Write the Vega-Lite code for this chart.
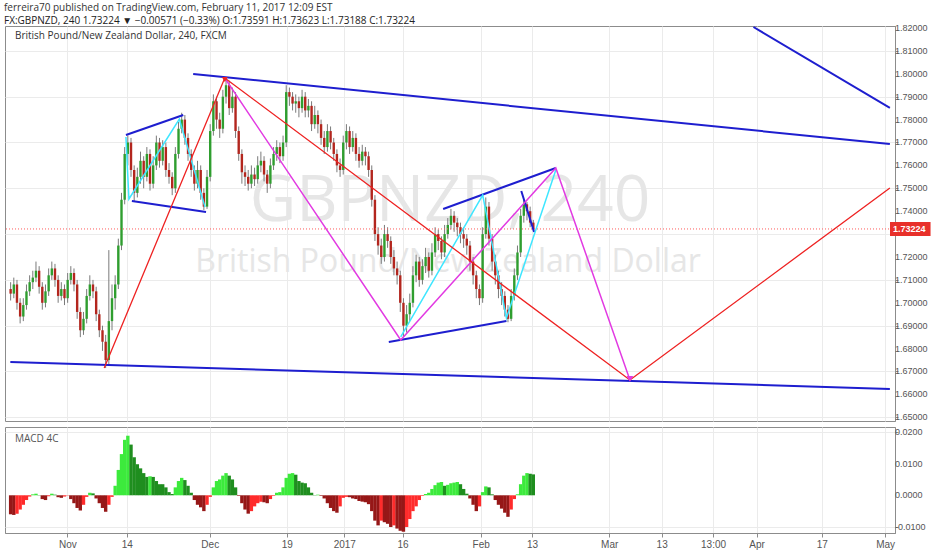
{
"$schema": "https://vega.github.io/schema/vega-lite/v6.json",
"background": "white",
"padding": {"left": 4, "top": 3, "right": 0, "bottom": 0},
"title": {"text": "ferreira70 published on TradingView.com, February 11, 2017 12:09 EST", "subtitle": "FX:GBPNZD, 240  1.73224 ▼ −0.00571 (−0.33%)  O:1.73591  H:1.73623  L:1.73188  C:1.73224", "anchor": "start", "frame": "bounds", "font": "Open Sans", "fontSize": 10, "fontWeight": "normal", "color": "#333333", "subtitleFont": "Open Sans", "subtitleFontSize": 10, "subtitleColor": "#222222", "offset": -3, "subtitlePadding": 3},
"spacing": 3,
"datasets": {
"one": [{}],
"yticks": [
{"v":1.65,"t":"1.65000"},{"v":1.66,"t":"1.66000"},{"v":1.67,"t":"1.67000"},{"v":1.68,"t":"1.68000"},{"v":1.69,"t":"1.69000"},
{"v":1.70,"t":"1.70000"},{"v":1.71,"t":"1.71000"},{"v":1.72,"t":"1.72000"},{"v":1.74,"t":"1.74000"},
{"v":1.75,"t":"1.75000"},{"v":1.76,"t":"1.76000"},{"v":1.77,"t":"1.77000"},{"v":1.78,"t":"1.78000"},{"v":1.79,"t":"1.79000"},
{"v":1.80,"t":"1.80000"},{"v":1.81,"t":"1.81000"},{"v":1.82,"t":"1.82000"}
],
"mticks": [
{"v":-0.01,"t":"-0.0100"},{"v":0,"t":"0.0000"},{"v":0.01,"t":"0.0100"},{"v":0.02,"t":"0.0200"}
],
"candles": [
{"d":-9,"o":1.706,"h":1.709,"l":1.701,"c":1.704},
{"d":-8.5,"o":1.704,"h":1.711,"l":1.702,"c":1.708},
{"d":-8,"o":1.708,"h":1.710,"l":1.697,"c":1.700},
{"d":-7.5,"o":1.700,"h":1.702,"l":1.691,"c":1.694},
{"d":-7,"o":1.694,"h":1.702,"l":1.692,"c":1.699},
{"d":-6.5,"o":1.699,"h":1.708,"l":1.697,"c":1.705},
{"d":-6,"o":1.705,"h":1.712,"l":1.703,"c":1.709},
{"d":-5.5,"o":1.709,"h":1.714,"l":1.706,"c":1.711},
{"d":-5,"o":1.711,"h":1.718,"l":1.709,"c":1.714},
{"d":-4.5,"o":1.714,"h":1.716,"l":1.704,"c":1.707},
{"d":-4,"o":1.707,"h":1.709,"l":1.697,"c":1.700},
{"d":-3.5,"o":1.700,"h":1.708,"l":1.698,"c":1.705},
{"d":-3,"o":1.705,"h":1.715,"l":1.703,"c":1.712},
{"d":-2.5,"o":1.712,"h":1.718,"l":1.710,"c":1.715},
{"d":-2,"o":1.715,"h":1.717,"l":1.707,"c":1.710},
{"d":-1.5,"o":1.710,"h":1.712,"l":1.700,"c":1.703},
{"d":-1,"o":1.703,"h":1.709,"l":1.701,"c":1.706},
{"d":-0.5,"o":1.706,"h":1.708,"l":1.699,"c":1.702},
{"d":0,"o":1.702,"h":1.713,"l":1.700,"c":1.710},
{"d":0.5,"o":1.710,"h":1.716,"l":1.708,"c":1.713},
{"d":1,"o":1.713,"h":1.715,"l":1.705,"c":1.708},
{"d":1.5,"o":1.708,"h":1.710,"l":1.693,"c":1.696},
{"d":2,"o":1.696,"h":1.698,"l":1.685,"c":1.688},
{"d":2.5,"o":1.688,"h":1.696,"l":1.686,"c":1.693},
{"d":3,"o":1.693,"h":1.706,"l":1.691,"c":1.703},
{"d":3.5,"o":1.703,"h":1.712,"l":1.701,"c":1.708},
{"d":4,"o":1.708,"h":1.710,"l":1.702,"c":1.705},
{"d":4.5,"o":1.705,"h":1.707,"l":1.692,"c":1.695},
{"d":5,"o":1.695,"h":1.697,"l":1.685,"c":1.688},
{"d":5.5,"o":1.688,"h":1.690,"l":1.679,"c":1.683},
{"d":6,"o":1.683,"h":1.686,"l":1.6715,"c":1.675},
{"d":6.5,"o":1.675,"h":1.723,"l":1.673,"c":1.692},
{"d":7,"o":1.692,"h":1.708,"l":1.688,"c":1.702},
{"d":7.5,"o":1.702,"h":1.712,"l":1.697,"c":1.708},
{"d":8,"o":1.708,"h":1.728,"l":1.706,"c":1.725},
{"d":8.5,"o":1.725,"h":1.748,"l":1.723,"c":1.745},
{"d":9,"o":1.745,"h":1.768,"l":1.743,"c":1.765},
{"d":9.5,"o":1.765,"h":1.773,"l":1.760,"c":1.770},
{"d":10,"o":1.770,"h":1.772,"l":1.755,"c":1.758},
{"d":10.5,"o":1.758,"h":1.760,"l":1.744,"c":1.748},
{"d":11,"o":1.748,"h":1.759,"l":1.746,"c":1.755},
{"d":11.5,"o":1.755,"h":1.766,"l":1.752,"c":1.762},
{"d":12,"o":1.762,"h":1.764,"l":1.750,"c":1.755},
{"d":12.5,"o":1.755,"h":1.768,"l":1.753,"c":1.765},
{"d":13,"o":1.765,"h":1.767,"l":1.749,"c":1.752},
{"d":13.5,"o":1.752,"h":1.764,"l":1.750,"c":1.760},
{"d":14,"o":1.760,"h":1.773,"l":1.758,"c":1.770},
{"d":14.5,"o":1.770,"h":1.772,"l":1.759,"c":1.762},
{"d":15,"o":1.762,"h":1.771,"l":1.760,"c":1.768},
{"d":15.5,"o":1.768,"h":1.770,"l":1.755,"c":1.758},
{"d":16,"o":1.758,"h":1.761,"l":1.752,"c":1.755},
{"d":16.5,"o":1.755,"h":1.757,"l":1.747,"c":1.750},
{"d":17,"o":1.750,"h":1.768,"l":1.748,"c":1.765},
{"d":17.5,"o":1.765,"h":1.779,"l":1.763,"c":1.776},
{"d":18,"o":1.776,"h":1.783,"l":1.774,"c":1.780},
{"d":18.5,"o":1.780,"h":1.782,"l":1.769,"c":1.772},
{"d":19,"o":1.772,"h":1.774,"l":1.762,"c":1.765},
{"d":19.5,"o":1.765,"h":1.767,"l":1.755,"c":1.758},
{"d":20,"o":1.758,"h":1.760,"l":1.749,"c":1.752},
{"d":20.5,"o":1.752,"h":1.762,"l":1.750,"c":1.758},
{"d":21,"o":1.758,"h":1.760,"l":1.745,"c":1.748},
{"d":21.5,"o":1.748,"h":1.750,"l":1.7405,"c":1.742},
{"d":22,"o":1.742,"h":1.758,"l":1.741,"c":1.755},
{"d":22.5,"o":1.755,"h":1.778,"l":1.753,"c":1.775},
{"d":23,"o":1.775,"h":1.791,"l":1.773,"c":1.788},
{"d":23.5,"o":1.788,"h":1.790,"l":1.776,"c":1.780},
{"d":24,"o":1.780,"h":1.783,"l":1.772,"c":1.776},
{"d":24.5,"o":1.776,"h":1.793,"l":1.774,"c":1.790},
{"d":25,"o":1.790,"h":1.7985,"l":1.787,"c":1.795},
{"d":25.5,"o":1.795,"h":1.797,"l":1.782,"c":1.785},
{"d":26,"o":1.785,"h":1.794,"l":1.783,"c":1.790},
{"d":26.5,"o":1.790,"h":1.792,"l":1.772,"c":1.775},
{"d":27,"o":1.775,"h":1.777,"l":1.762,"c":1.765},
{"d":27.5,"o":1.765,"h":1.767,"l":1.752,"c":1.757},
{"d":28,"o":1.757,"h":1.760,"l":1.751,"c":1.755},
{"d":28.5,"o":1.755,"h":1.758,"l":1.749,"c":1.752},
{"d":29,"o":1.752,"h":1.760,"l":1.750,"c":1.756},
{"d":29.5,"o":1.756,"h":1.759,"l":1.751,"c":1.754},
{"d":30,"o":1.754,"h":1.764,"l":1.752,"c":1.760},
{"d":30.5,"o":1.760,"h":1.766,"l":1.757,"c":1.762},
{"d":31,"o":1.762,"h":1.764,"l":1.753,"c":1.756},
{"d":31.5,"o":1.756,"h":1.758,"l":1.748,"c":1.752},
{"d":32,"o":1.752,"h":1.763,"l":1.750,"c":1.760},
{"d":32.5,"o":1.760,"h":1.768,"l":1.758,"c":1.765},
{"d":33,"o":1.765,"h":1.771,"l":1.762,"c":1.768},
{"d":33.5,"o":1.768,"h":1.770,"l":1.761,"c":1.764},
{"d":34,"o":1.764,"h":1.773,"l":1.762,"c":1.770},
{"d":34.5,"o":1.770,"h":1.795,"l":1.768,"c":1.792},
{"d":35,"o":1.792,"h":1.794,"l":1.786,"c":1.790},
{"d":35.5,"o":1.790,"h":1.792,"l":1.784,"c":1.787},
{"d":36,"o":1.787,"h":1.791,"l":1.783,"c":1.788},
{"d":36.5,"o":1.788,"h":1.790,"l":1.781,"c":1.785},
{"d":37,"o":1.785,"h":1.793,"l":1.783,"c":1.790},
{"d":37.5,"o":1.790,"h":1.792,"l":1.781,"c":1.784},
{"d":38,"o":1.784,"h":1.789,"l":1.781,"c":1.786},
{"d":38.5,"o":1.786,"h":1.788,"l":1.775,"c":1.778},
{"d":39,"o":1.778,"h":1.786,"l":1.776,"c":1.782},
{"d":39.5,"o":1.782,"h":1.784,"l":1.774,"c":1.778},
{"d":40,"o":1.778,"h":1.780,"l":1.769,"c":1.772},
{"d":40.5,"o":1.772,"h":1.775,"l":1.765,"c":1.768},
{"d":41,"o":1.768,"h":1.778,"l":1.766,"c":1.775},
{"d":41.5,"o":1.775,"h":1.777,"l":1.767,"c":1.770},
{"d":42,"o":1.770,"h":1.772,"l":1.762,"c":1.765},
{"d":42.5,"o":1.765,"h":1.767,"l":1.757,"c":1.760},
{"d":43,"o":1.760,"h":1.763,"l":1.755,"c":1.758},
{"d":43.5,"o":1.758,"h":1.773,"l":1.756,"c":1.770},
{"d":44,"o":1.770,"h":1.778,"l":1.767,"c":1.775},
{"d":44.5,"o":1.775,"h":1.777,"l":1.765,"c":1.768},
{"d":45,"o":1.768,"h":1.775,"l":1.766,"c":1.772},
{"d":45.5,"o":1.772,"h":1.774,"l":1.762,"c":1.765},
{"d":46,"o":1.765,"h":1.768,"l":1.759,"c":1.762},
{"d":46.5,"o":1.762,"h":1.769,"l":1.760,"c":1.766},
{"d":47,"o":1.766,"h":1.768,"l":1.760,"c":1.764},
{"d":47.5,"o":1.764,"h":1.766,"l":1.755,"c":1.758},
{"d":48,"o":1.758,"h":1.760,"l":1.742,"c":1.745},
{"d":48.5,"o":1.745,"h":1.747,"l":1.727,"c":1.730},
{"d":49,"o":1.730,"h":1.733,"l":1.721,"c":1.725},
{"d":49.5,"o":1.725,"h":1.728,"l":1.717,"c":1.720},
{"d":50,"o":1.720,"h":1.734,"l":1.718,"c":1.730},
{"d":50.5,"o":1.730,"h":1.733,"l":1.724,"c":1.727},
{"d":51,"o":1.727,"h":1.729,"l":1.717,"c":1.720},
{"d":51.5,"o":1.720,"h":1.723,"l":1.712,"c":1.715},
{"d":52,"o":1.715,"h":1.718,"l":1.708,"c":1.712},
{"d":52.5,"o":1.712,"h":1.714,"l":1.696,"c":1.700},
{"d":53,"o":1.700,"h":1.702,"l":1.685,"c":1.690},
{"d":53.5,"o":1.690,"h":1.699,"l":1.687,"c":1.695},
{"d":54,"o":1.695,"h":1.704,"l":1.692,"c":1.700},
{"d":54.5,"o":1.700,"h":1.716,"l":1.698,"c":1.712},
{"d":55,"o":1.712,"h":1.721,"l":1.709,"c":1.718},
{"d":55.5,"o":1.718,"h":1.720,"l":1.707,"c":1.710},
{"d":56,"o":1.710,"h":1.719,"l":1.708,"c":1.716},
{"d":56.5,"o":1.716,"h":1.724,"l":1.713,"c":1.720},
{"d":57,"o":1.720,"h":1.722,"l":1.711,"c":1.714},
{"d":57.5,"o":1.714,"h":1.726,"l":1.712,"c":1.722},
{"d":58,"o":1.722,"h":1.733,"l":1.720,"c":1.730},
{"d":58.5,"o":1.730,"h":1.732,"l":1.723,"c":1.727},
{"d":59,"o":1.727,"h":1.729,"l":1.719,"c":1.722},
{"d":59.5,"o":1.722,"h":1.734,"l":1.720,"c":1.730},
{"d":60,"o":1.730,"h":1.737,"l":1.728,"c":1.734},
{"d":60.5,"o":1.734,"h":1.741,"l":1.732,"c":1.738},
{"d":61,"o":1.738,"h":1.740,"l":1.731,"c":1.735},
{"d":61.5,"o":1.735,"h":1.737,"l":1.729,"c":1.733},
{"d":62,"o":1.733,"h":1.735,"l":1.726,"c":1.730},
{"d":62.5,"o":1.730,"h":1.733,"l":1.724,"c":1.728},
{"d":63,"o":1.728,"h":1.730,"l":1.721,"c":1.725},
{"d":63.5,"o":1.725,"h":1.727,"l":1.714,"c":1.718},
{"d":64,"o":1.718,"h":1.720,"l":1.708,"c":1.712},
{"d":64.5,"o":1.712,"h":1.714,"l":1.702,"c":1.706},
{"d":65,"o":1.706,"h":1.708,"l":1.699,"c":1.702},
{"d":65.5,"o":1.702,"h":1.733,"l":1.700,"c":1.730},
{"d":66,"o":1.730,"h":1.746,"l":1.728,"c":1.742},
{"d":66.5,"o":1.742,"h":1.744,"l":1.725,"c":1.728},
{"d":67,"o":1.728,"h":1.730,"l":1.714,"c":1.718},
{"d":67.5,"o":1.718,"h":1.721,"l":1.708,"c":1.712},
{"d":68,"o":1.712,"h":1.714,"l":1.702,"c":1.706},
{"d":68.5,"o":1.706,"h":1.709,"l":1.699,"c":1.703},
{"d":69,"o":1.703,"h":1.705,"l":1.694,"c":1.697},
{"d":69.5,"o":1.697,"h":1.699,"l":1.6915,"c":1.693},
{"d":70,"o":1.693,"h":1.706,"l":1.692,"c":1.703},
{"d":70.5,"o":1.703,"h":1.715,"l":1.701,"c":1.712},
{"d":71,"o":1.712,"h":1.725,"l":1.710,"c":1.722},
{"d":71.5,"o":1.722,"h":1.741,"l":1.720,"c":1.738},
{"d":72,"o":1.738,"h":1.745,"l":1.735,"c":1.743},
{"d":72.5,"o":1.743,"h":1.744,"l":1.736,"c":1.740},
{"d":73,"o":1.740,"h":1.742,"l":1.733,"c":1.735},
{"d":73.5,"o":1.735,"h":1.7362,"l":1.7319,"c":1.7322}
],
"macd": [
{"d":-9,"m":-0.0060,"k":"M"},{"d":-8.5,"m":-0.0062,"k":"M"},{"d":-8,"m":-0.0058,"k":"R"},{"d":-7.5,"m":-0.0045,"k":"R"},
{"d":-7,"m":-0.0030,"k":"R"},{"d":-6.5,"m":-0.0015,"k":"R"},{"d":-6,"m":-0.0004,"k":"R"},{"d":-5.5,"m":0.0003,"k":"L"},
{"d":-5,"m":0.0005,"k":"L"},{"d":-4.5,"m":0.0001,"k":"G"},{"d":-4,"m":-0.0012,"k":"M"},{"d":-3.5,"m":-0.0015,"k":"M"},
{"d":-3,"m":-0.0003,"k":"R"},{"d":-2.5,"m":0.0005,"k":"L"},{"d":-2,"m":0.0002,"k":"G"},{"d":-1.5,"m":-0.0006,"k":"M"},
{"d":-1,"m":-0.0008,"k":"M"},{"d":-0.5,"m":-0.0004,"k":"R"},{"d":0,"m":-0.0001,"k":"R"},{"d":0.5,"m":-0.0012,"k":"M"},
{"d":1,"m":-0.0025,"k":"M"},{"d":1.5,"m":-0.0040,"k":"M"},{"d":2,"m":-0.0048,"k":"M"},{"d":2.5,"m":-0.0030,"k":"R"},
{"d":3,"m":-0.0005,"k":"R"},{"d":3.5,"m":0.0008,"k":"L"},{"d":4,"m":0.0006,"k":"G"},{"d":4.5,"m":-0.0010,"k":"M"},
{"d":5,"m":-0.0025,"k":"M"},{"d":5.5,"m":-0.0040,"k":"M"},{"d":6,"m":-0.0052,"k":"M"},{"d":6.5,"m":-0.0030,"k":"R"},
{"d":7,"m":-0.0005,"k":"R"},{"d":7.5,"m":0.0030,"k":"L"},{"d":8,"m":0.0080,"k":"L"},{"d":8.5,"m":0.0130,"k":"L"},
{"d":9,"m":0.0175,"k":"L"},{"d":9.5,"m":0.0188,"k":"L"},{"d":10,"m":0.0160,"k":"G"},{"d":10.5,"m":0.0120,"k":"G"},
{"d":11,"m":0.0098,"k":"G"},{"d":11.5,"m":0.0085,"k":"G"},{"d":12,"m":0.0070,"k":"G"},{"d":12.5,"m":0.0058,"k":"G"},
{"d":13,"m":0.0060,"k":"L"},{"d":13.5,"m":0.0058,"k":"G"},{"d":14,"m":0.0045,"k":"G"},{"d":14.5,"m":0.0035,"k":"G"},
{"d":15,"m":0.0035,"k":"G"},{"d":15.5,"m":0.0025,"k":"G"},{"d":16,"m":0.0010,"k":"G"},{"d":16.5,"m":0.0004,"k":"G"},
{"d":17,"m":0.0025,"k":"L"},{"d":17.5,"m":0.0045,"k":"L"},{"d":18,"m":0.0055,"k":"L"},{"d":18.5,"m":0.0048,"k":"G"},
{"d":19,"m":0.0030,"k":"G"},{"d":19.5,"m":0.0008,"k":"G"},{"d":20,"m":-0.0015,"k":"M"},{"d":20.5,"m":-0.0030,"k":"M"},
{"d":21,"m":-0.0038,"k":"M"},{"d":21.5,"m":-0.0050,"k":"M"},{"d":22,"m":-0.0030,"k":"R"},{"d":22.5,"m":-0.0005,"k":"R"},
{"d":23,"m":0.0025,"k":"L"},{"d":23.5,"m":0.0045,"k":"L"},{"d":24,"m":0.0050,"k":"L"},{"d":24.5,"m":0.0062,"k":"L"},
{"d":25,"m":0.0070,"k":"L"},{"d":25.5,"m":0.0062,"k":"G"},{"d":26,"m":0.0050,"k":"G"},{"d":26.5,"m":0.0025,"k":"G"},
{"d":27,"m":-0.0002,"k":"M"},{"d":27.5,"m":-0.0025,"k":"M"},{"d":28,"m":-0.0045,"k":"M"},{"d":28.5,"m":-0.0058,"k":"M"},
{"d":29,"m":-0.0050,"k":"R"},{"d":29.5,"m":-0.0035,"k":"R"},{"d":30,"m":-0.0025,"k":"R"},{"d":30.5,"m":-0.0020,"k":"R"},
{"d":31,"m":-0.0022,"k":"M"},{"d":31.5,"m":-0.0025,"k":"M"},{"d":32,"m":-0.0012,"k":"R"},{"d":32.5,"m":-0.0002,"k":"R"},
{"d":33,"m":0.0008,"k":"L"},{"d":33.5,"m":0.0010,"k":"L"},{"d":34,"m":0.0025,"k":"L"},{"d":34.5,"m":0.0055,"k":"L"},
{"d":35,"m":0.0068,"k":"L"},{"d":35.5,"m":0.0070,"k":"L"},{"d":36,"m":0.0065,"k":"G"},{"d":36.5,"m":0.0045,"k":"G"},
{"d":37,"m":0.0040,"k":"G"},{"d":37.5,"m":0.0038,"k":"G"},{"d":38,"m":0.0025,"k":"G"},{"d":38.5,"m":0.0008,"k":"G"},
{"d":39,"m":0.0001,"k":"G"},{"d":39.5,"m":0.0002,"k":"L"},{"d":40,"m":-0.0002,"k":"M"},{"d":40.5,"m":-0.0010,"k":"M"},
{"d":41,"m":-0.0025,"k":"M"},{"d":41.5,"m":-0.0040,"k":"M"},{"d":42,"m":-0.0050,"k":"M"},{"d":42.5,"m":-0.0055,"k":"M"},
{"d":43,"m":-0.0035,"k":"R"},{"d":43.5,"m":-0.0008,"k":"R"},{"d":44,"m":-0.0005,"k":"R"},{"d":44.5,"m":-0.0006,"k":"M"},
{"d":45,"m":-0.0010,"k":"M"},{"d":45.5,"m":-0.0012,"k":"M"},{"d":46,"m":-0.0018,"k":"M"},{"d":46.5,"m":-0.0020,"k":"M"},
{"d":47,"m":-0.0022,"k":"M"},{"d":47.5,"m":-0.0028,"k":"M"},{"d":48,"m":-0.0050,"k":"M"},{"d":48.5,"m":-0.0080,"k":"M"},
{"d":49,"m":-0.0095,"k":"M"},{"d":49.5,"m":-0.0080,"k":"R"},{"d":50,"m":-0.0085,"k":"M"},{"d":50.5,"m":-0.0090,"k":"M"},
{"d":51,"m":-0.0100,"k":"M"},{"d":51.5,"m":-0.0095,"k":"R"},{"d":52,"m":-0.0105,"k":"M"},{"d":52.5,"m":-0.0112,"k":"M"},
{"d":53,"m":-0.0115,"k":"M"},{"d":53.5,"m":-0.0100,"k":"R"},{"d":54,"m":-0.0075,"k":"R"},{"d":54.5,"m":-0.0050,"k":"R"},
{"d":55,"m":-0.0035,"k":"R"},{"d":55.5,"m":-0.0015,"k":"R"},{"d":56,"m":-0.0002,"k":"R"},{"d":56.5,"m":0.0004,"k":"L"},
{"d":57,"m":0.0008,"k":"L"},{"d":57.5,"m":0.0020,"k":"L"},{"d":58,"m":0.0032,"k":"L"},{"d":58.5,"m":0.0040,"k":"L"},
{"d":59,"m":0.0042,"k":"L"},{"d":59.5,"m":0.0030,"k":"G"},{"d":60,"m":0.0033,"k":"L"},{"d":60.5,"m":0.0038,"k":"L"},
{"d":61,"m":0.0040,"k":"L"},{"d":61.5,"m":0.0042,"k":"L"},{"d":62,"m":0.0035,"k":"G"},{"d":62.5,"m":0.0020,"k":"G"},
{"d":63,"m":0.0005,"k":"G"},{"d":63.5,"m":-0.0010,"k":"M"},{"d":64,"m":-0.0030,"k":"M"},{"d":64.5,"m":-0.0050,"k":"M"},
{"d":65,"m":-0.0035,"k":"R"},{"d":65.5,"m":0.0010,"k":"L"},{"d":66,"m":0.0028,"k":"L"},{"d":66.5,"m":0.0025,"k":"G"},
{"d":67,"m":0.0003,"k":"G"},{"d":67.5,"m":-0.0015,"k":"M"},{"d":68,"m":-0.0030,"k":"M"},{"d":68.5,"m":-0.0042,"k":"M"},
{"d":69,"m":-0.0055,"k":"M"},{"d":69.5,"m":-0.0068,"k":"M"},{"d":70,"m":-0.0045,"k":"R"},{"d":70.5,"m":-0.0012,"k":"R"},
{"d":71,"m":0.0003,"k":"L"},{"d":71.5,"m":0.0035,"k":"L"},{"d":72,"m":0.0062,"k":"L"},{"d":72.5,"m":0.0070,"k":"L"},
{"d":73,"m":0.0068,"k":"G"},{"d":73.5,"m":0.0066,"k":"G"}
],
"lines": [
{"g":"blue","id":"b1","n":0,"d":-9.05,"p":1.67415},{"g":"blue","id":"b1","n":1,"d":129.78,"p":1.66236},
{"g":"blue","id":"b2","n":0,"d":19.81,"p":1.79991},{"g":"blue","id":"b2","n":1,"d":129.78,"p":1.76934},
{"g":"blue","id":"b3","n":0,"d":108.25,"p":1.82044},{"g":"blue","id":"b3","n":1,"d":129.78,"p":1.78507},
{"g":"blue","id":"b4","n":0,"d":9.2,"p":1.77328},{"g":"blue","id":"b4","n":1,"d":18.25,"p":1.78201},
{"g":"blue","id":"b5","n":0,"d":10.14,"p":1.74445},{"g":"blue","id":"b5","n":1,"d":21.84,"p":1.73965},
{"g":"blue","id":"b6","n":0,"d":59.27,"p":1.74096},{"g":"blue","id":"b6","n":1,"d":77.05,"p":1.75886},
{"g":"blue","id":"b7","n":0,"d":50.69,"p":1.68288},{"g":"blue","id":"b7","n":1,"d":69.26,"p":1.69205},
{"g":"blue","id":"b8","n":0,"d":71.6,"p":1.74882},{"g":"blue","id":"b8","n":1,"d":73.62,"p":1.73092},
{"g":"cyan","id":"c1","n":0,"d":9.2,"p":1.7724},{"g":"cyan","id":"c1","n":1,"d":9.67,"p":1.74533},{"g":"cyan","id":"c1","n":2,"d":17.63,"p":1.78026},{"g":"cyan","id":"c1","n":3,"d":21.68,"p":1.74183},
{"g":"cyan","id":"c2","n":0,"d":52.57,"p":1.68507},{"g":"cyan","id":"c2","n":1,"d":65.51,"p":1.74707},{"g":"cyan","id":"c2","n":2,"d":69.26,"p":1.69336},{"g":"cyan","id":"c2","n":3,"d":77.05,"p":1.75799},
{"g":"magenta","id":"m1","n":0,"d":24.8,"p":1.79817},{"g":"magenta","id":"m1","n":1,"d":52.57,"p":1.68376},{"g":"magenta","id":"m1","n":2,"d":77.05,"p":1.75886},{"g":"magenta","id":"m1","n":3,"d":88.75,"p":1.66629},
{"g":"red","id":"r1","n":0,"d":5.77,"p":1.67153},{"g":"red","id":"r1","n":1,"d":24.8,"p":1.79817},{"g":"red","id":"r1","n":2,"d":88.75,"p":1.66629},{"g":"red","id":"r1","n":3,"d":129.78,"p":1.75013}
]
},
"vconcat": [
{
"width": 890, "height": 395,
"layer": [
{"data": {"name": "one"}, "mark": {"type": "text", "font": "Open Sans", "fontSize": 64, "color": "#e6e6e6", "align": "center", "baseline": "middle"},
 "encoding": {
  "x": {"datum": 60.35, "type": "quantitative", "scale": {"domain": [-9.1, 129.8], "nice": false, "zero": false},
        "axis": {"values": [-0.047, 9.32, 22.43, 34.6, 43.66, 52.86, 65.19, 73.31, 85.48, 93.76, 101.87, 108.74, 119.04, 129.03], "labels": false, "ticks": false, "domain": false, "grid": true, "title": null}},
  "y": {"datum": 1.7440, "type": "quantitative", "scale": {"domain": [1.64838, 1.82087], "nice": false, "zero": false},
        "axis": {"orient": "right", "values": [1.65,1.66,1.67,1.68,1.69,1.70,1.71,1.72,1.73,1.74,1.75,1.76,1.77,1.78,1.79,1.80,1.81,1.82], "labels": false, "title": null, "grid": true, "tickSize": 3}},
  "text": {"value": "GBPNZD, 240"}}},
{"data": {"name": "one"}, "mark": {"type": "text", "font": "Open Sans", "fontSize": 32, "color": "#e6e6e6", "align": "center", "baseline": "middle"},
 "encoding": {"x": {"datum": 60.04}, "y": {"datum": 1.7178}, "text": {"value": "British Pound/New Zealand Dollar"}}},
{"data": {"name": "one"}, "mark": {"type": "text", "font": "Open Sans", "fontSize": 10, "color": "#333333", "align": "left", "baseline": "middle"},
 "encoding": {"x": {"datum": -8.32}, "y": {"datum": 1.8165}, "text": {"value": "British Pound/New Zealand Dollar, 240, FXCM"}}},
{"data": {"name": "candles"}, "mark": {"type": "rule", "color": "#7a7a7a", "strokeWidth": 1},
 "encoding": {"x": {"field": "d", "type": "quantitative"}, "y": {"field": "l", "type": "quantitative"}, "y2": {"field": "h"}}},
{"data": {"name": "candles"}, "mark": {"type": "bar", "size": 2.4},
 "encoding": {"x": {"field": "d", "type": "quantitative"}, "y": {"field": "o", "type": "quantitative"}, "y2": {"field": "c"},
  "color": {"condition": {"test": "datum.c >= datum.o", "value": "#2f9e2f"}, "value": "#b3261e"}}},
{"data": {"name": "one"}, "mark": {"type": "rule", "color": "#ff5a5a", "strokeWidth": 1, "strokeDash": [1, 2]},
 "encoding": {"y": {"datum": 1.73224}}},
{"data": {"name": "lines"}, "transform": [{"filter": "datum.g == 'blue'"}],
 "mark": {"type": "line", "color": "#1e1ecf", "strokeWidth": 2, "clip": true},
 "encoding": {"x": {"field": "d", "type": "quantitative"}, "y": {"field": "p", "type": "quantitative"}, "detail": {"field": "id"}, "order": {"field": "n"}}},
{"data": {"name": "lines"}, "transform": [{"filter": "datum.g == 'cyan'"}],
 "mark": {"type": "line", "color": "#3ee6ff", "strokeWidth": 1.5, "clip": true},
 "encoding": {"x": {"field": "d", "type": "quantitative"}, "y": {"field": "p", "type": "quantitative"}, "detail": {"field": "id"}, "order": {"field": "n"}}},
{"data": {"name": "lines"}, "transform": [{"filter": "datum.g == 'magenta'"}],
 "mark": {"type": "line", "color": "#e23ae2", "strokeWidth": 1.5, "clip": true},
 "encoding": {"x": {"field": "d", "type": "quantitative"}, "y": {"field": "p", "type": "quantitative"}, "detail": {"field": "id"}, "order": {"field": "n"}}},
{"data": {"name": "lines"}, "transform": [{"filter": "datum.g == 'red'"}],
 "mark": {"type": "line", "color": "#ee2222", "strokeWidth": 1.3, "clip": true},
 "encoding": {"x": {"field": "d", "type": "quantitative"}, "y": {"field": "p", "type": "quantitative"}, "detail": {"field": "id"}, "order": {"field": "n"}}},
{"data": {"name": "one"}, "mark": {"type": "point", "shape": "triangle-down", "filled": true, "color": "#e23ae2", "size": 45, "opacity": 1},
 "encoding": {"x": {"datum": 88.75}, "y": {"datum": 1.6668}}},
{"data": {"name": "one"}, "mark": {"type": "point", "shape": "triangle-down", "filled": true, "color": "#ee2222", "size": 35, "opacity": 1},
 "encoding": {"x": {"datum": 24.8}, "y": {"datum": 1.7975}}},
{"data": {"name": "yticks"}, "mark": {"type": "text", "font": "Liberation Sans", "fontSize": 9, "color": "#555555", "align": "left", "baseline": "middle", "dx": 5},
 "encoding": {"x": {"datum": 129.8}, "y": {"field": "v", "type": "quantitative"}, "text": {"field": "t"}}},
{"data": {"name": "one"}, "mark": {"type": "rect", "color": "#e8302a"},
 "encoding": {"x": {"datum": 129.8}, "x2": {"datum": 136.2}, "y": {"datum": 1.7353}, "y2": {"datum": 1.7292}}},
{"data": {"name": "one"}, "mark": {"type": "text", "font": "Liberation Sans", "fontSize": 9, "fontWeight": "bold", "color": "white", "align": "left", "baseline": "middle", "dx": 3},
 "encoding": {"x": {"datum": 129.8}, "y": {"datum": 1.73224}, "text": {"value": "1.73224"}}}
]
},
{
"width": 890, "height": 106,
"layer": [
{"data": {"name": "macd"}, "mark": {"type": "bar", "size": 3.4},
 "encoding": {
  "x": {"field": "d", "type": "quantitative", "scale": {"domain": [-9.1, 129.8], "nice": false, "zero": false},
        "axis": {"values": [-0.047, 9.32, 22.43, 34.6, 43.66, 52.86, 65.19, 73.31, 85.48, 93.76, 101.87, 108.74, 119.04, 129.03], "labelExpr": "datum.value == -0.047 ? 'Nov' : datum.value == 9.32 ? '14' : datum.value == 22.43 ? 'Dec' : datum.value == 34.6 ? '19' : datum.value == 43.66 ? '2017' : datum.value == 52.86 ? '16' : datum.value == 65.19 ? 'Feb' : datum.value == 73.31 ? '13' : datum.value == 85.48 ? 'Mar' : datum.value == 93.76 ? '13' : datum.value == 101.87 ? '13:00' : datum.value == 108.74 ? 'Apr' : datum.value == 119.04 ? '17' : 'May'", "title": null, "grid": true, "tickSize": 4, "labelFontSize": 10, "labelPadding": 2, "labelOverlap": false}},
  "y": {"field": "m", "type": "quantitative", "scale": {"domain": [-0.0119, 0.02155], "nice": false, "zero": false},
        "axis": {"orient": "right", "values": [-0.01, 0, 0.01, 0.02], "labels": false, "title": null, "grid": true, "tickSize": 3}},
  "y2": {"datum": 0},
  "color": {"field": "k", "type": "nominal", "scale": {"domain": ["L", "G", "R", "M"], "range": ["#3cea3c", "#1f8e1f", "#ff2b2b", "#961717"]}, "legend": null}}},
{"data": {"name": "one"}, "mark": {"type": "text", "font": "Open Sans", "fontSize": 10, "color": "#555555", "align": "left", "baseline": "middle"},
 "encoding": {"x": {"datum": -8.32}, "y": {"datum": 0.0178}, "text": {"value": "MACD 4C"}}},
{"data": {"name": "mticks"}, "mark": {"type": "text", "font": "Liberation Sans", "fontSize": 9, "color": "#555555", "align": "left", "baseline": "middle", "dx": 5},
 "encoding": {"x": {"datum": 129.8}, "y": {"field": "v", "type": "quantitative"}, "text": {"field": "t"}}}
]
}
],
"config": {
 "view": {"fill": "white", "stroke": "#8c8c8c"},
 "axis": {"labelFont": "Liberation Sans", "labelColor": "#555555", "gridColor": "#ebebeb", "domainColor": "#8c8c8c", "tickColor": "#8c8c8c"}
}
}
